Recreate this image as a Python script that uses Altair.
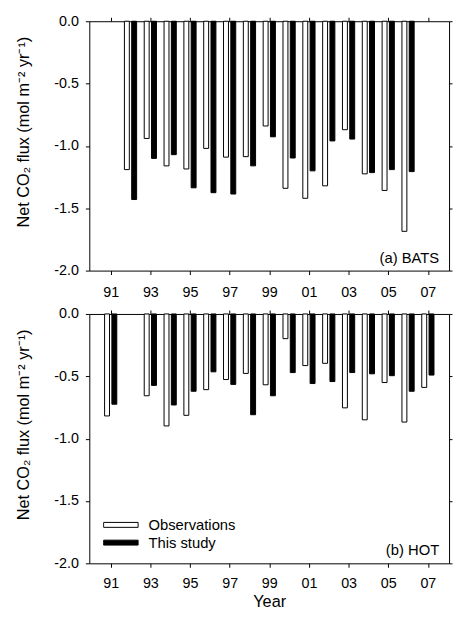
import altair as alt
import pandas as pd

series_names = ["Observations", "This study"]

# (a) BATS
years_bats = [1992, 1993, 1994, 1995, 1996, 1997, 1998, 1999, 2000, 2001, 2002, 2003, 2004, 2005, 2006]
obs_bats = [-1.19, -0.94, -1.16, -1.185, -1.02, -1.09, -1.086, -0.84, -1.34, -1.42, -1.32, -0.87, -1.224, -1.357, -1.685]
model_bats = [-1.43, -1.10, -1.07, -1.336, -1.375, -1.386, -1.16, -0.927, -1.097, -1.20, -0.96, -0.945, -1.214, -1.19, -1.206]

# (b) HOT
years_hot = [1991, 1993, 1994, 1995, 1996, 1997, 1998, 1999, 2000, 2001, 2002, 2003, 2004, 2005, 2006, 2007]
obs_hot = [-0.818, -0.656, -0.898, -0.813, -0.607, -0.526, -0.477, -0.568, -0.198, -0.414, -0.396, -0.753, -0.849, -0.55, -0.867, -0.589]
model_hot = [-0.724, -0.573, -0.73, -0.62, -0.464, -0.565, -0.808, -0.656, -0.47, -0.558, -0.542, -0.47, -0.48, -0.495, -0.62, -0.49]

tick_years = [1991, 1993, 1995, 1997, 1999, 2001, 2003, 2005, 2007]
tick_labels = ["91", "93", "95", "97", "99", "01", "03", "05", "07"]
y_ticks = [0.0, -0.5, -1.0, -1.5, -2.0]

FONT = "Liberation Sans"
Y_TITLE = "Net CO\u2082 flux (mol m\u207b\u00b2 yr\u207b\u00b9)"
TICK_FS = 14.5
TITLE_FS = 16.5
TEXT_FS = 15
W, H = 365, 253


def make_df(years, obs, model):
    rows = []
    for yr, o, m in zip(years, obs, model):
        rows.append({"year": yr, "series": series_names[0], "flux": o})
        rows.append({"year": yr, "series": series_names[1], "flux": m})
    return pd.DataFrame(rows)


label_expr = " : ".join(
    [f"datum.value == {y} ? '{l}'" for y, l in zip(tick_years, tick_labels)]
) + " : ''"

x_scale = alt.Scale(domain=[1990.17, 2007.82], nice=False, zero=False)
y_scale = alt.Scale(domain=[-2, 0], nice=False)

common_axis = dict(
    grid=False, domainColor="black", tickColor="black",
    labelColor="black", titleColor="black", labelFont=FONT, titleFont=FONT,
    labelFontSize=TICK_FS, titleFontSize=TITLE_FS, titleFontWeight="normal",
)


def panel(df, tag, x_title, legend, x_label_pad):
    base = alt.Chart(df)
    x_bottom = alt.X(
        "year:Q", scale=x_scale,
        axis=alt.Axis(orient="bottom", values=tick_years, labelExpr=label_expr,
                      title=x_title, tickSize=4, labelPadding=x_label_pad,
                      titlePadding=3.5, **common_axis),
    )
    y_left = alt.Y(
        "flux:Q", scale=y_scale, stack=None,
        axis=alt.Axis(orient="left", values=y_ticks, tickSize=4,
                      labelExpr="replace(format(datum.value, '.1f'), '\u2212', '-')",
                      title=Y_TITLE, labelPadding=7, titleX=-59, titleY=112,
                      **common_axis),
    )
    color = alt.Color(
        "series:N",
        scale=alt.Scale(domain=series_names, range=["white", "black"]),
        legend=legend,
    )
    obs = base.transform_filter(alt.datum.series == series_names[0]).mark_bar(
        orient="vertical", width=5, xOffset=-3.7, stroke="black", strokeWidth=1
    ).encode(x=x_bottom, y=y_left, color=color)
    mod = base.transform_filter(alt.datum.series == series_names[1]).mark_bar(
        orient="vertical", width=5, xOffset=3.7, stroke="black", strokeWidth=1
    ).encode(
        x=alt.X("year:Q", scale=x_scale, axis=None),
        y=alt.Y("flux:Q", scale=y_scale, stack=None, axis=None),
        color=color,
    )
    frame = base.mark_point(opacity=0).encode(
        x=alt.X("year:Q", scale=x_scale,
                axis=alt.Axis(orient="top", values=tick_years, labels=False,
                              title=None, tickSize=4, **common_axis)),
        y=alt.Y("flux:Q", scale=y_scale,
                axis=alt.Axis(orient="right", values=y_ticks, labels=False,
                              title=None, tickSize=3, **common_axis)),
    )
    text = base.transform_filter(
        (alt.datum.year == 2001) & (alt.datum.series == series_names[0])
    ).mark_text(
        text=tag, align="right", baseline="alphabetic", font=FONT,
        fontSize=TEXT_FS, color="black"
    ).encode(x=alt.value(W - 10), y=alt.value(H - 8))
    return alt.layer(obs, mod, frame, text).properties(width=W, height=H)


legend = alt.Legend(
    orient="none", legendX=14, legendY=205, title=None,
    symbolType="M-1,-0.143L1,-0.143L1,0.143L-1,0.143Z", symbolSize=1225,
    symbolStrokeColor="black", symbolStrokeWidth=1, symbolOpacity=1,
    clipHeight=18, rowPadding=0, labelFontSize=TEXT_FS, labelOffset=10,
    labelFont=FONT, labelColor="black",
)

top = panel(make_df(years_bats, obs_bats, model_bats), "(a) BATS", None, None, 11)
bottom = panel(make_df(years_hot, obs_hot, model_hot), "(b) HOT", "Year", legend, 10)

chart = alt.vconcat(top, bottom, spacing=44, bounds="flush").resolve_scale(
    color="independent"
).properties(
    padding={"left": 6.5, "top": 1, "right": 0, "bottom": 0}
).configure_view(stroke=None)

chart.save("out.html", embed_options={"renderer": "svg", "actions": False})
